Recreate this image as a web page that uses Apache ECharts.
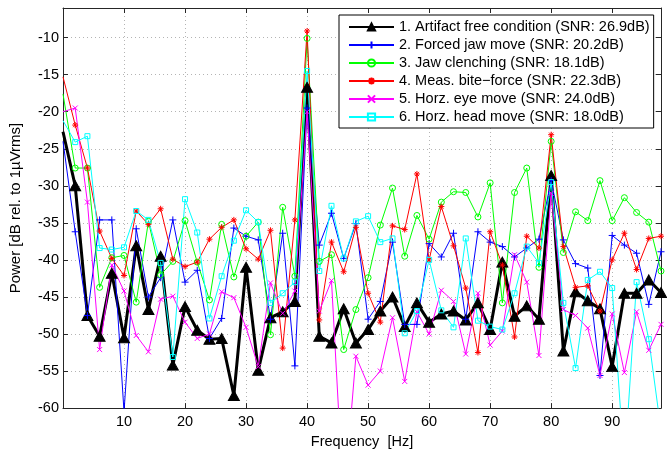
<!DOCTYPE html>
<html>
<head>
<meta charset="utf-8">
<script src="https://cdn.jsdelivr.net/npm/echarts@6/dist/echarts.min.js"></script>
<style>
html,body{margin:0;padding:0;background:#fff;}
#chart{width:667px;height:454px;}
</style>
</head>
<body>
<div id="chart"></div>
<script>
const freqHz = [0,2,4,6,8,10,12,14,16,18,20,22,24,26,28,30,32,34,36,38,40,42,44,46,48,50,52,54,56,58,60,62,64,66,68,70,72,74,76,78,80,82,84,86,88,90,92,94,96,98];

const artifactFree = [-22.7,-30.0,-47.5,-50.3,-41.8,-50.5,-38.1,-46.7,-39.5,-54.2,-46.3,-49.5,-50.7,-50.6,-58.3,-41.0,-54.9,-47.8,-47.0,-45.6,-16.7,-50.3,-51.2,-46.6,-51.2,-49.4,-46.9,-45.0,-49.0,-45.8,-48.4,-47.3,-46.9,-48.1,-45.8,-49.4,-40.3,-47.6,-46.2,-48.0,-28.6,-52.3,-44.3,-45.5,-46.6,-54.4,-44.5,-44.5,-42.7,-44.4];

const forcedJaw = [-24.0,-36.2,-47.5,-34.6,-34.6,-60.5,-35.8,-45.0,-42.4,-34.6,-43.0,-41.4,-50.6,-47.9,-35.7,-36.8,-37.3,-48.0,-36.4,-54.3,-19.5,-38.0,-33.7,-39.8,-35.1,-48.0,-45.6,-37.6,-48.7,-48.7,-37.8,-39.6,-36.4,-48.0,-36.2,-37.6,-38.2,-39.6,-38.4,-37.2,-29.3,-37.3,-40.5,-41.1,-55.6,-36.7,-38.0,-39.1,-46.0,-38.9];

const jawClench = [-17.6,-27.6,-27.6,-43.7,-39.7,-39.4,-45.7,-34.8,-42.0,-40.2,-34.7,-40.3,-45.4,-35.2,-42.3,-36.8,-34.9,-50.1,-32.9,-42.2,-10.1,-40.2,-39.3,-52.1,-46.7,-42.4,-35.3,-30.3,-39.5,-34.0,-37.2,-32.2,-30.8,-30.9,-34.2,-29.6,-45.8,-30.9,-27.6,-41.0,-24.0,-39.0,-33.5,-34.7,-29.3,-34.7,-31.6,-33.6,-34.9,-41.5];

const biteForce = [-15.3,-21.8,-27.6,-36.1,-39.8,-42.1,-33.4,-35.2,-33.1,-39.9,-40.9,-40.3,-37.2,-35.6,-34.6,-38.5,-39.9,-36.0,-51.9,-34.6,-9.1,-48.1,-37.6,-41.6,-35.6,-44.5,-48.4,-35.4,-35.9,-28.4,-40.0,-32.8,-38.1,-43.8,-52.5,-36.2,-40.7,-50.4,-36.8,-38.4,-23.1,-38.2,-43.7,-43.5,-46.9,-40.0,-36.4,-41.3,-37.1,-36.8];

const eyeMove = [-20.0,-19.5,-32.2,-52.1,-40.7,-44.2,-50.2,-52.4,-45.3,-44.9,-48.4,-50.6,-50.0,-44.3,-45.1,-49.1,-54.4,-43.1,-47.2,-44.2,-20.0,-46.9,-42.8,-73.0,-53.0,-56.9,-55.0,-47.8,-56.4,-47.0,-50.0,-44.1,-45.6,-52.7,-44.5,-51.5,-49.6,-39.3,-43.0,-52.9,-31.0,-46.7,-47.5,-49.2,-55.6,-47.3,-55.2,-47.0,-52.2,-48.7];

const headMove = [-21.2,-24.1,-23.3,-38.4,-38.6,-38.3,-33.4,-34.6,-40.4,-53.1,-31.8,-36.3,-47.9,-42.2,-37.4,-33.3,-34.9,-45.8,-44.5,-43.0,-14.5,-41.5,-32.7,-39.8,-34.8,-34.1,-37.6,-37.1,-49.9,-46.9,-40.0,-46.8,-49.1,-37.1,-48.2,-49.0,-49.4,-44.5,-38.2,-40.4,-29.5,-45.8,-54.6,-42.7,-41.6,-43.8,-68.0,-43.0,-50.7,-63.0];

const seriesNames = [
  '1. Artifact free condition (SNR: 26.9dB)',
  '2. Forced jaw move (SNR: 20.2dB)',
  '3. Jaw clenching (SNR: 18.1dB)',
  '4. Meas. bite\u2212force (SNR: 22.3dB)',
  '5. Horz. eye move (SNR: 24.0dB)',
  '6. Horz. head move (SNR: 18.0dB)'
];

const xAxisTitle = 'Frequency  [Hz]';
const yAxisTitle = 'Power [dB rel. to 1\u00b5Vrms]';

const FONT = '"Liberation Sans", Arial, Helvetica, sans-serif';

function mk(name, vals, color, lw, symbol, size, fill, bw) {
  return {
    name: name,
    type: 'line',
    data: freqHz.map(function (f, i) {
      return i === 0 ? { value: [f, vals[i]], symbol: 'none' } : [f, vals[i]];
    }),
    symbol: symbol,
    symbolSize: size,
    showSymbol: true,
    showAllSymbol: true,
    clip: true,
    animation: false,
    lineStyle: { color: color, width: lw },
    itemStyle: { color: fill, borderColor: color, borderWidth: bw },
    emphasis: { disabled: true }
  };
}

const series = [
  mk(seriesNames[0], artifactFree, '#000000', 3, 'triangle', [11, 10], '#000000', 1),
  mk(seriesNames[1], forcedJaw, '#0000ff', 1, 'path://M5,0L5,10M0,5L10,5', 7, 'rgba(0,0,0,0)', 1),
  mk(seriesNames[2], jawClench, '#00ff00', 1, 'circle', 6, 'rgba(0,0,0,0)', 1),
  mk(seriesNames[3], biteForce, '#ff0000', 1, 'path://M5,0L5,10M0,5L10,5M1.5,1.5L8.5,8.5M1.5,8.5L8.5,1.5', 6, 'rgba(0,0,0,0)', 1),
  mk(seriesNames[4], eyeMove, '#ff00ff', 1, 'path://M0,0L10,10M0,10L10,0', 5, 'rgba(0,0,0,0)', 1),
  mk(seriesNames[5], headMove, '#00ffff', 1, 'rect', 5, 'rgba(0,0,0,0)', 1)
];

const axisColor = '#262626';
const gridLine = { show: true, lineStyle: { color: '#b4b4b4', width: 1, type: [1, 3] } };

const chart = echarts.init(document.getElementById('chart'), null, { renderer: 'canvas' });
chart.setOption({
  animation: false,
  backgroundColor: '#ffffff',
  grid: { left: 63, right: 6, top: 8, bottom: 41, containLabel: false },
  legend: {
    data: seriesNames,
    orient: 'vertical',
    left: 339,
    top: 15,
    padding: [3, 4, 2, 9],
    itemWidth: 45,
    itemHeight: 9,
    itemGap: 0,
    selectedMode: false,
    backgroundColor: '#ffffff',
    borderColor: '#000000',
    borderWidth: 1,
    textStyle: { color: '#000', fontSize: 14.5, fontFamily: FONT, lineHeight: 18 }
  },
  xAxis: [
    {
      type: 'value', position: 'bottom', min: 0, max: 98, interval: 10,
      name: xAxisTitle, nameLocation: 'middle', nameGap: 21,
      nameTextStyle: { color: '#000', fontSize: 14.5, fontFamily: FONT },
      axisLine: { show: true, onZero: false, lineStyle: { color: axisColor, width: 1 } },
      axisTick: { show: true, inside: true, length: 5, lineStyle: { color: axisColor } },
      axisLabel: { color: '#000', fontSize: 14.5, fontFamily: FONT, margin: 6, showMinLabel: false, showMaxLabel: false },
      splitLine: gridLine
    },
    {
      type: 'value', position: 'top', min: 0, max: 98, interval: 10,
      axisLine: { show: true, onZero: false, lineStyle: { color: axisColor, width: 1 } },
      axisTick: { show: true, inside: true, length: 5, lineStyle: { color: axisColor } },
      axisLabel: { show: false },
      splitLine: { show: false }
    }
  ],
  yAxis: [
    {
      type: 'value', position: 'left', min: -60, max: -6, interval: 5,
      name: yAxisTitle, nameLocation: 'middle', nameGap: 40,
      nameTextStyle: { color: '#000', fontSize: 15, fontFamily: FONT },
      axisLine: { show: true, onZero: false, lineStyle: { color: axisColor, width: 1 } },
      axisTick: { show: true, inside: true, length: 5, lineStyle: { color: axisColor } },
      axisLabel: { color: '#000', fontSize: 14.5, fontFamily: FONT, margin: 4, showMaxLabel: false },
      splitLine: gridLine
    },
    {
      type: 'value', position: 'right', min: -60, max: -6, interval: 5,
      axisLine: { show: true, onZero: false, lineStyle: { color: axisColor, width: 1 } },
      axisTick: { show: true, inside: true, length: 5, lineStyle: { color: axisColor } },
      axisLabel: { show: false },
      splitLine: { show: false }
    }
  ],
  series: series
});
</script>
</body>
</html>
